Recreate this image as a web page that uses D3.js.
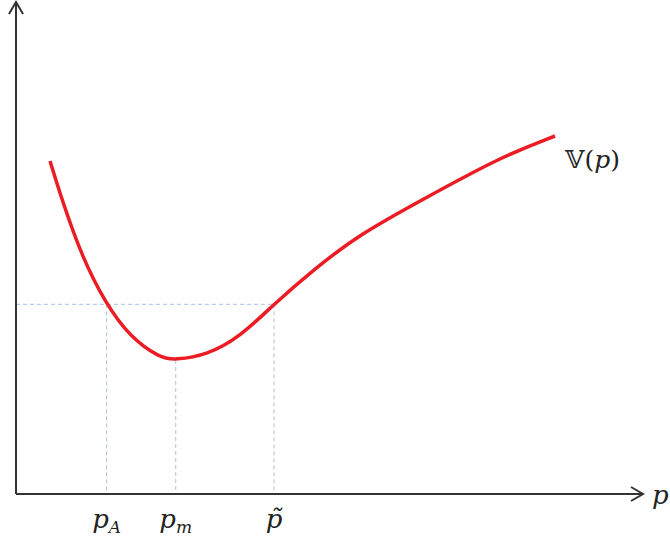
<!DOCTYPE html>
<html>
<head>
<meta charset="utf-8">
<script src="https://cdn.jsdelivr.net/npm/d3@7"></script>
<style>
  body { margin: 0; background: #fff; }
  text { font-family: "DejaVu Serif", serif; font-style: italic; fill: #222; }
</style>
</head>
<body>
<svg id="chart" width="670" height="546"></svg>
<script>
// curve V(p) (arbitrary units)
var curveP = [0.545, 0.737, 1.058, 1.442, 1.827, 2.308, 2.548, 3.061, 3.590, 4.119,
              4.760, 5.513, 6.474, 7.756, 8.638];
var curveV = [6.824, 6.025, 4.857, 3.893, 3.217, 2.787, 2.746, 2.848, 3.217, 3.873,
              4.590, 5.328, 6.004, 6.902, 7.336];

// marked points on the p axis
var markP = [1.452, 2.56, 4.135];
var markV = [3.887, 2.746, 3.887];
var markMain = ["p", "p", "p\u0303"];
var markSub = ["A", "m", ""];
var levelV = 3.887;

var svg = d3.select("#chart");
var x = d3.scaleLinear().domain([0, 10]).range([16, 640]);
var y = d3.scaleLinear().domain([0, 10]).range([494, 6]);

var data = curveP.map(function(p, i) { return [p, curveV[i]]; });

// dashed guides
var guide = svg.append("g")
    .attr("stroke", "#a8c2e2")
    .attr("stroke-width", 1)
    .attr("stroke-dasharray", "4,3")
    .attr("fill", "none");

guide.append("line")
    .attr("x1", x(0)).attr("x2", x(markP[2]))
    .attr("y1", y(levelV)).attr("y2", y(levelV));

guide.selectAll("line.v").data(markP).enter().append("line")
    .attr("class", "v")
    .attr("x1", function(d) { return x(d); })
    .attr("x2", function(d) { return x(d); })
    .attr("y1", function(d, i) { return y(markV[i]); })
    .attr("y2", y(0));

// axes
var ax = svg.append("g").attr("stroke", "#333").attr("stroke-width", 2).attr("fill", "none");
ax.append("line").attr("x1", x(0)).attr("y1", y(0)).attr("x2", x(0)).attr("y2", 2);
ax.append("line").attr("x1", x(0)).attr("y1", y(0)).attr("x2", 643).attr("y2", y(0));
ax.append("path").attr("d", "M" + (x(0) - 7) + ",14L" + x(0) + ",2L" + (x(0) + 7) + ",14");
ax.append("path").attr("d", "M631," + (y(0) - 7) + "L643," + y(0) + "L631," + (y(0) + 7));

// the curve
var line = d3.line()
    .x(function(d) { return x(d[0]); })
    .y(function(d) { return y(d[1]); })
    .curve(d3.curveBasis);

svg.append("path")
    .datum(data)
    .attr("d", line)
    .attr("fill", "none")
    .attr("stroke", "#ec1c24")
    .attr("stroke-width", 3.5);

// labels
var lab = svg.selectAll("text.mark").data(markP).enter().append("text")
    .attr("class", "mark")
    .attr("x", function(d) { return x(d); })
    .attr("y", 528)
    .attr("font-size", 26)
    .attr("text-anchor", "middle");
lab.append("tspan").text(function(d, i) { return markMain[i]; });
lab.append("tspan").attr("dy", 5).attr("font-size", 17).text(function(d, i) { return markSub[i]; });

svg.append("text")
    .attr("x", 652).attr("y", 504)
    .attr("font-size", 26)
    .text("p");

var vl = svg.append("text")
    .attr("x", 565).attr("y", 168)
    .attr("font-size", 25)
    .style("font-style", "normal");
vl.append("tspan").text("\uD835\uDD4D(");
vl.append("tspan").style("font-style", "italic").text("p");
vl.append("tspan").text(")");
</script>
</body>
</html>
